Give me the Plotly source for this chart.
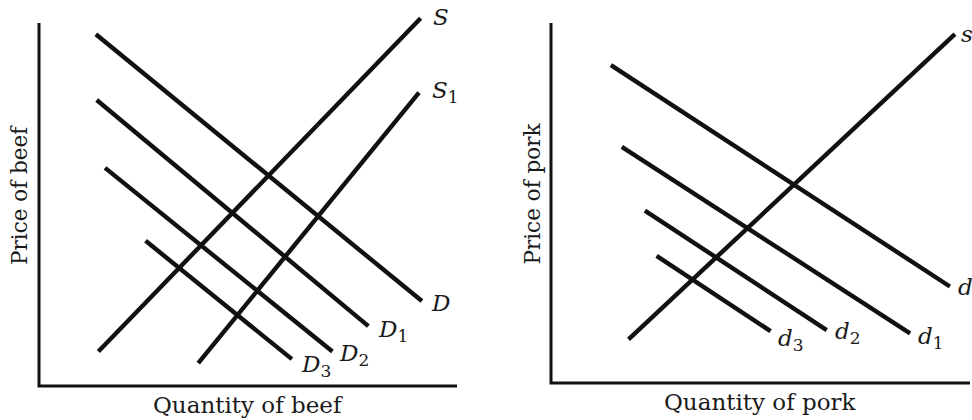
import plotly.graph_objects as go

# ---- Beef market: supply and demand curves (quantity, price endpoints) ----
beef_names = ["S", "S1", "D", "D1", "D2", "D3"]
beef_main = ["S", "S", "D", "D", "D", "D"]
beef_sub = ["", "1", "", "1", "2", "3"]
beef_q0 = [14.2, 38.1, 13.6, 13.8, 15.8, 25.5]
beef_p0 = [9.5, 6.3, 96.9, 78.8, 60.1, 40.0]
beef_q1 = [91.3, 90.9, 91.6, 78.8, 70.2, 60.5]
beef_p1 = [101.3, 80.8, 23.4, 16.5, 9.5, 7.4]

# ---- Pork market ----
pork_names = ["s", "d", "d1", "d2", "d3"]
pork_main = ["s", "d", "d", "d", "d"]
pork_sub = ["", "", "1", "2", "3"]
pork_q0 = [18.5, 14.3, 16.9, 22.4, 25.2]
pork_p0 = [12.1, 88.3, 65.6, 47.9, 35.3]
pork_q1 = [96.4, 95.2, 85.7, 65.8, 52.4]
pork_p1 = [96.9, 26.8, 13.8, 14.7, 14.4]

Q_MAX, P_MAX = 100, 100

# label offsets (pixels) from each curve's upper/right end
beef_dx = [10, 11, 7, 8, 5, 7]
beef_dy = [1, 1, -2, -5, -3, -7]
pork_dx = [4, 6, 6, 6, 5]
pork_dy = [0, 0, -5, -3, -9]

W, H = 972, 420
INK = "#111111"
TEXT = "#1a1a1a"
SERIF = "DejaVu Serif, Liberation Serif, serif"
LABEL_SIZE = 23
SUB_SIZE = 17


def curve_label(main, sub):
    txt = f"<i>{main}</i>"
    if sub:
        txt += f"<sub><span style='font-size:{SUB_SIZE}px'>{sub}</span></sub>"
    return txt


# pixel geometry of each panel: axis origin, axis ends, horizontal strip
panels = [
    dict(x0=39, x1=457, y0=386, y1=23, strip=(0, 500), xa="x", ya="y",
         xlabel="Quantity of beef", ylabel="Price of beef",
         names=beef_names, main=beef_main, sub=beef_sub, q0=beef_q0, p0=beef_p0,
         q1=beef_q1, p1=beef_p1, dx=beef_dx, dy=beef_dy),
    dict(x0=551, x1=970, y0=383, y1=23, strip=(500, 972), xa="x2", ya="y2",
         xlabel="Quantity of pork", ylabel="Price of pork",
         names=pork_names, main=pork_main, sub=pork_sub, q0=pork_q0, p0=pork_p0,
         q1=pork_q1, p1=pork_p1, dx=pork_dx, dy=pork_dy),
]

fig = go.Figure()
annotations, shapes = [], []
layout_axes = {}

for i, pn in enumerate(panels):
    sx = (pn["x1"] - pn["x0"]) / Q_MAX
    sy = (pn["y0"] - pn["y1"]) / P_MAX
    s0, s1 = pn["strip"]
    xkey = "xaxis" if i == 0 else "xaxis2"
    ykey = "yaxis" if i == 0 else "yaxis2"
    layout_axes[xkey] = dict(domain=[s0 / W, s1 / W],
                             range=[(s0 - pn["x0"]) / sx, (s1 - pn["x0"]) / sx],
                             visible=False, fixedrange=True)
    layout_axes[ykey] = dict(domain=[0, 1],
                             range=[(pn["y0"] - H) / sy, pn["y0"] / sy],
                             visible=False, fixedrange=True)
    if i == 1:
        layout_axes[xkey]["anchor"] = "y2"
        layout_axes[ykey]["anchor"] = "x2"

    # L-shaped axes
    shapes.append(dict(type="path", xref=pn["xa"], yref=pn["ya"],
                       path=f"M 0,{P_MAX} L 0,0 L {Q_MAX},0",
                       line=dict(color=INK, width=3)))

    for name, mn, sb, qa, pa, qb, pb, dx, dy in zip(
            pn["names"], pn["main"], pn["sub"], pn["q0"], pn["p0"],
            pn["q1"], pn["p1"], pn["dx"], pn["dy"]):
        fig.add_trace(go.Scatter(
            x=[qa, qb], y=[pa, pb], mode="lines", name=name,
            line=dict(color=INK, width=4.4),
            xaxis=pn["xa"], yaxis=pn["ya"], hoverinfo="skip",
            showlegend=False))
        annotations.append(dict(
            x=qb, y=pb, xref=pn["xa"], yref=pn["ya"], text=curve_label(mn, sb),
            showarrow=False, xanchor="left", yanchor="middle",
            xshift=dx, yshift=dy,
            font=dict(family=SERIF, size=LABEL_SIZE, color=TEXT)))

    # axis titles
    annotations.append(dict(
        x=Q_MAX / 2, y=0, xref=pn["xa"], yref=pn["ya"], text=pn["xlabel"],
        showarrow=False, xanchor="center", yanchor="top", yshift=-4,
        font=dict(family=SERIF, size=23, color=TEXT)))
    annotations.append(dict(
        x=0, y=P_MAX * 0.525, xref=pn["xa"], yref=pn["ya"], text=pn["ylabel"],
        showarrow=False, xanchor="right", yanchor="middle", xshift=-5,
        textangle=-90,
        font=dict(family=SERIF, size=21.5, color=TEXT)))

fig.update_layout(
    width=W, height=H,
    margin=dict(l=0, r=0, t=0, b=0),
    paper_bgcolor="white", plot_bgcolor="white",
    annotations=annotations, shapes=shapes,
    **layout_axes,
)

fig.write_html("out.html", config=dict(displayModeBar=False))
